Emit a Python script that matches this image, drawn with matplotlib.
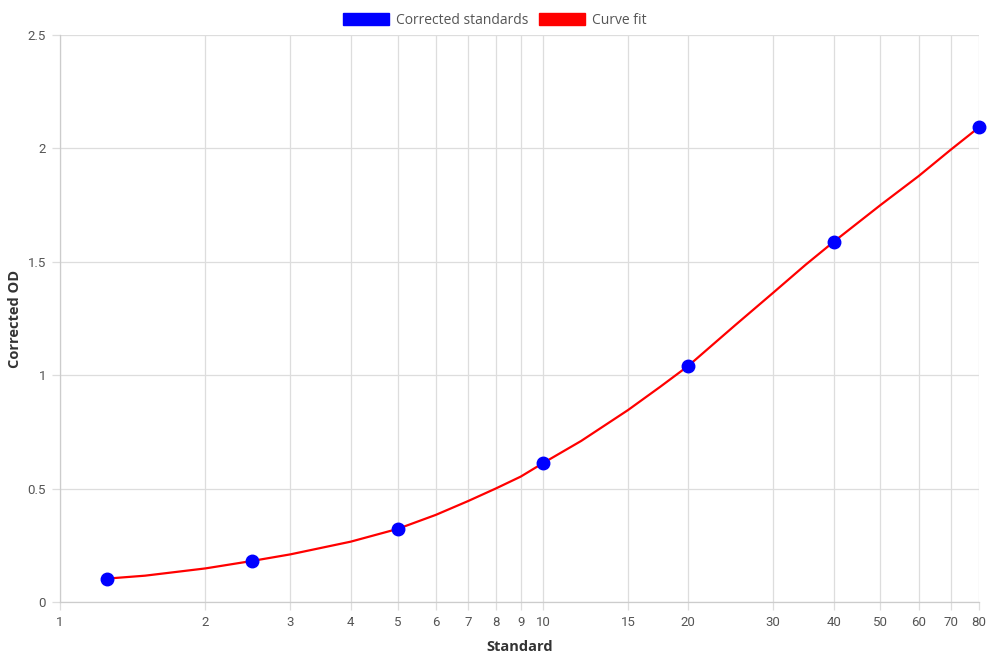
import matplotlib
matplotlib.use('Agg')
import matplotlib.pyplot as plt
from matplotlib.patches import Patch
from matplotlib.ticker import FixedLocator, NullLocator

# standards (x) and their corrected OD values
std_x = [1.25, 2.5, 5, 10, 20, 40, 80]
std_y = [0.103, 0.181, 0.320, 0.612, 1.041, 1.588, 2.093]

# curve fit
fit_x = [1.25, 1.5, 2, 2.5, 3, 4, 5, 6, 7, 8, 9, 10, 12, 15, 17.5, 20,
         25, 30, 35, 40, 50, 60, 70, 80]
fit_y = [0.103, 0.116, 0.148, 0.181, 0.210, 0.266, 0.322, 0.384, 0.445, 0.501,
         0.553, 0.612, 0.710, 0.846, 0.949, 1.041, 1.220, 1.364, 1.487, 1.588,
         1.750, 1.878, 1.995, 2.093]

x_ticks = [1, 2, 3, 4, 5, 6, 7, 8, 9, 10, 15, 20, 30, 40, 50, 60, 70, 80]
y_ticks = [0, 0.5, 1, 1.5, 2, 2.5]
y_tick_labels = ['0', '0.5', '1', '1.5', '2', '2.5']

grid_c = '#dddddd'
tick_c = '#555555'

fig = plt.figure(figsize=(9.9, 6.6), dpi=100)
ax = fig.add_axes([0.0606, 0.0879, 0.9283, 0.8591])

ax.plot(fit_x, fit_y, color='#ff0000', lw=1.6, zorder=3, solid_joinstyle='round')
ax.plot(std_x, std_y, 'o', color='#0000ff', ms=9, zorder=4, clip_on=False)

ax.set_xscale('log')
ax.set_xlim(1, 80)
ax.set_ylim(0, 2.5)
ax.xaxis.set_major_locator(FixedLocator(x_ticks))
ax.xaxis.set_minor_locator(NullLocator())
ax.set_xticklabels([str(t) for t in x_ticks])
ax.set_yticks(y_ticks)
ax.set_yticklabels(y_tick_labels)

ax.grid(True, color=grid_c, lw=0.9, zorder=0)
ax.set_axisbelow(True)
for s in ['top', 'right']:
    ax.spines[s].set_visible(False)
for s in ['left', 'bottom']:
    ax.spines[s].set_color('#cccccc')
    ax.spines[s].set_linewidth(0.9)

ax.tick_params(axis='both', length=6, width=0.9, color=grid_c,
               labelcolor=tick_c, labelsize=9.5, pad=4)
for lab in ax.get_xticklabels() + ax.get_yticklabels():
    lab.set_fontfamily('Roboto')

ax.set_xlabel('Standard', fontsize=10.5, fontweight='bold', color='#333333',
              family='Open Sans', labelpad=8)
ax.set_ylabel('Corrected OD', fontsize=10.5, fontweight='bold', color='#333333',
              family='Open Sans', labelpad=4)

handles = [Patch(facecolor='#0000ff', edgecolor='#0000ff', label='Corrected standards'),
           Patch(facecolor='#ff0000', edgecolor='#ff0000', label='Curve fit')]
fig.legend(handles=handles, loc='upper center', bbox_to_anchor=(0.5, 1.0), ncol=2,
           frameon=False, handlelength=3.3, handleheight=1.0, handletextpad=0.5,
           columnspacing=0.8, prop={'family': 'Open Sans', 'size': 10},
           labelcolor='#555555')

fig.savefig('out.png', dpi=100)
